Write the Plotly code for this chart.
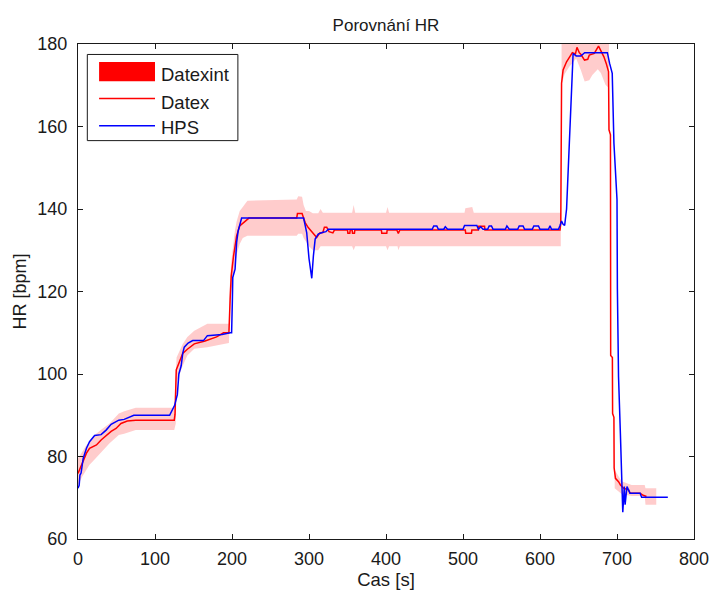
import plotly.graph_objects as go

# ---------------- data ----------------
# Datex HR (red), (time s, bpm)
datex = [(0, 75.9), (2.5, 77.1), (6.8, 78.8), (11, 80.8), (15, 82), (24, 82.8), (30, 84), (36.5, 85.1),
         (43, 86.1), (49.4, 86.8), (55.8, 88), (64, 88.6), (75, 88.8), (125, 88.8), (126, 90.2),
         (127.6, 101), (131, 102.5), (136, 105), (142, 106), (151, 107.3), (165, 108), (180, 109),
         (189, 110), (196, 110), (197.6, 118.2), (199, 123.8), (202, 128.6), (204, 131), (206, 133.5),
         (210, 135.9), (216.7, 137.1), (222, 137.8), (284, 137.8), (285, 138.9), (291, 138.9),
         (295, 136.7), (299, 135.5), (303, 134.7), (308, 133.5), (310, 133.1), (314, 134.2), (318, 134.3),
         (320, 135.6), (323, 135.6), (326, 134.5), (331, 134.2), (333, 134.9), (350, 134.9), (350.5, 134.1),
         (353, 134.1), (353.5, 134.9), (356, 134.9), (356.5, 134.1), (359, 134.1), (359.5, 134.9),
         (394, 134.9), (394.5, 134.1), (401, 134.1), (401.5, 134.9), (414, 134.9), (416, 134.1),
         (418, 134.9), (503, 134.9), (503.5, 134.1), (511, 134.1), (511.5, 134.9), (520, 134.9),
         (520.5, 135.8), (528, 135.8), (528.5, 134.9), (626, 134.9), (627, 136.5), (628, 170.5),
         (630, 173.7), (634.5, 175.7), (638.7, 176.9), (642, 177.9), (646, 177.6), (648, 179.2),
         (651, 177.9), (653, 177.5), (657.8, 176.1), (662, 176.3), (664, 177.3), (670.5, 177.7),
         (676, 179.5), (679, 178.4), (683, 176.9), (686, 175.3), (689, 173.3), (689.6, 159.2),
         (691.5, 158), (691.8, 104.5), (694, 104), (694.3, 90.4), (696, 89.5), (696.3, 77.2),
         (698, 74.7), (702, 73.9), (704.5, 73.1), (708.6, 72.3), (715, 71.9), (717, 71.1),
         (730, 71.1), (734, 70.6), (737, 70.3), (738.3, 70.3)]

# HPS HR (blue), (time s, bpm)
hps = [(0, 72.3), (1.5, 73), (2.5, 75.5), (4, 76), (6.8, 79.6), (11, 82), (15, 83.6), (21.6, 85.1),
       (30, 85.3), (36.5, 86.4), (43, 87.8), (53, 88.8), (60, 89), (72.5, 90), (119, 90), (122, 91),
       (125.5, 92.4), (129, 95), (131, 100), (134, 102), (136, 105), (138, 106.5), (143, 107.5),
       (149, 108.1), (163, 108.1), (168, 109.3), (187, 109.6), (197.6, 110), (199.5, 110),
       (200.5, 118), (201, 123.4), (204, 125.4), (206, 131.9), (208, 134.7), (210.3, 136.7),
       (212.5, 137.8), (293, 137.8), (297, 134.3), (300, 128), (301.5, 126.2), (303.6, 123.2),
       (305.7, 128.6), (308, 132.7), (312, 133.9), (317, 134.3), (322, 134.5), (325, 135.1),
       (460, 135.1), (462, 135.9), (466, 135.9), (468, 135.1), (475, 135.1), (477, 135.7), (480, 135.1),
       (500, 135.1), (502, 136), (518, 136), (520, 135.1), (523, 135.7), (526, 135.1), (532, 135.1),
       (534, 135.9), (537, 135.9), (539, 135.1), (555, 135.1), (557, 135.9), (560, 135.1), (571, 135.1),
       (573, 135.9), (578, 135.9), (580, 135.1), (590, 135.1), (592, 135.9), (598, 135.9), (600, 135.1),
       (611, 135.1), (613, 135.9), (615, 135.1), (624, 135.1), (626, 136), (628, 137.1), (630, 136.3),
       (632, 136), (634.5, 140), (636.6, 149.6), (638.7, 160), (640.8, 170.5), (643, 177.7),
       (647, 177.1), (653, 177.1), (658, 177.9), (687.5, 177.9), (690.4, 175.3), (693.8, 172.9),
       (696, 156), (700, 142.3), (700.5, 120.6), (702, 99.3), (704.4, 85.6), (705.7, 75.5),
       (706.5, 66.7), (707.5, 66.5), (709.5, 72.7), (710.5, 68.3), (713, 72.7), (715, 72),
       (717, 71.1), (730, 71.1), (732, 70.1), (766, 70.1)]

# Datexint band (red, semi-transparent): segments of (time s, lower bpm, upper bpm)
band_seg1 = [(0, 73, 79.5), (5, 75, 81), (10, 76.5, 82.5), (15, 78, 83.6), (20, 79, 85), (30, 81, 86.5),
             (41, 83.2, 88), (53, 85.2, 90.4), (60, 85.5, 91), (75, 86.4, 91.8), (125, 86.4, 91.8),
             (127, 88, 98), (128, 98, 104), (136, 102, 107.3), (142, 104.5, 109), (151, 106.1, 110.5),
             (168, 106.5, 112.2), (196, 107.5, 112.2), (197, 114, 121), (199, 120, 127), (202, 124, 132),
             (204, 127, 135), (206, 129, 137), (210, 131.5, 139.5), (214, 133, 140.5), (220, 133.5, 142),
             (284, 133.5, 142.3), (286, 134, 143.1), (291, 134, 143), (293, 133, 141), (296, 132, 139.5),
             (300, 131, 139.5), (305, 130, 139), (312, 130, 139), (315, 131, 140), (318, 131, 139.1),
             (356, 131, 139.1), (358, 130, 141), (360, 131, 139.1), (400, 131, 139.1), (402, 130, 140.5),
             (404, 131, 139.1), (415, 131, 139.1), (416, 130, 139.1), (418, 131, 139.1), (502, 131, 139.1),
             (503, 131, 140.2), (512, 131, 140.5), (514, 131, 139.1), (627, 131, 139.1)]
band_seg2 = [(628, 170.1, 182), (632, 172.7, 182), (638, 174.5, 182), (647, 176.5, 182), (653, 173.7, 182),
             (658, 170.9, 182), (664, 171.2, 182), (668, 172.5, 182), (675, 173.9, 182), (679, 173, 182),
             (685, 170.1, 182), (689.6, 169.3, 182)]
band_seg3 = [(697, 72.3, 76.7), (706, 70.9, 74), (719, 70.4, 73.1), (736, 70.4, 73.1), (737, 68.3, 72.3),
             (751, 68.3, 72.3)]

series_names = ["Datexint", "Datex", "HPS"]
x_ticks = [0, 100, 200, 300, 400, 500, 600, 700, 800]
y_ticks = [60, 80, 100, 120, 140, 160, 180]

# ---------------- figure ----------------
W, H = 721, 595
ML, MR, MT, MB = 78, 15, 44, 54
PW, PH = W - ML - MR, H - MT - MB
FONT = "Liberation Sans, Arial, sans-serif"
TXT = "#1a1a1a"

bx, by = [], []
for seg in (band_seg1, band_seg2, band_seg3):
    t = [p[0] for p in seg]
    lo = [p[1] for p in seg]
    hi = [p[2] for p in seg]
    bx += t + t[::-1] + [None]
    by += lo + hi[::-1] + [None]

fig = go.Figure()
fig.add_trace(go.Scatter(x=bx, y=by, fill="toself", fillcolor="rgba(255,0,0,0.2)",
                         mode="lines", line=dict(width=0), name=series_names[0],
                         hoverinfo="skip", showlegend=False))
fig.add_trace(go.Scatter(x=[p[0] for p in datex], y=[p[1] for p in datex], mode="lines",
                         line=dict(color="#ff0000", width=1.5), name=series_names[1], showlegend=False))
fig.add_trace(go.Scatter(x=[p[0] for p in hps], y=[p[1] for p in hps], mode="lines",
                         line=dict(color="#0000ff", width=1.5), name=series_names[2], showlegend=False))


def px(xpix):
    return (xpix - ML) / PW


def py(ypix):
    return (H - MB - ypix) / PH


# legend drawn as shapes + text, MATLAB style
shapes = [
    dict(type="rect", xref="paper", yref="paper", x0=px(87.5), x1=px(241), y0=py(141), y1=py(54.5),
         line=dict(color="#1a1a1a", width=1), fillcolor="white", layer="above"),
    dict(type="rect", xref="paper", yref="paper", x0=px(99.5), x1=px(156.5), y0=py(81.5), y1=py(62),
         line=dict(width=0), fillcolor="#ff0000", layer="above"),
    dict(type="line", xref="paper", yref="paper", x0=px(99.5), x1=px(156.5), y0=py(98.7), y1=py(98.7),
         line=dict(color="#ff0000", width=1.5), layer="above"),
    dict(type="line", xref="paper", yref="paper", x0=px(99.5), x1=px(156.5), y0=py(126), y1=py(126),
         line=dict(color="#0000ff", width=1.5), layer="above"),
]
annotations = []
for name, ytext in zip(series_names, [74.5, 102.5, 128]):
    annotations.append(dict(text=name, xref="paper", yref="paper", x=px(161), y=py(ytext),
                            xanchor="left", yanchor="middle", showarrow=False,
                            font=dict(family=FONT, size=18.5, color=TXT)))

axis_common = dict(showline=True, linecolor="#1a1a1a", linewidth=1, mirror="ticks", ticks="inside",
                   ticklen=5, tickcolor="#1a1a1a", showgrid=False, zeroline=False,
                   ticklabeloverflow="allow",
                   tickfont=dict(family=FONT, size=18, color=TXT))

fig.update_layout(
    width=W, height=H, autosize=False,
    margin=dict(l=ML, r=MR, t=MT, b=MB, pad=0),
    paper_bgcolor="white", plot_bgcolor="white",
    title=dict(text="Porovnání HR", x=0.5, xref="paper", y=1 - 25 / H, yref="container",
               xanchor="center", yanchor="middle", font=dict(family=FONT, size=17, color=TXT)),
    xaxis=dict(range=[0, 800], tickvals=x_ticks, ticklabelstandoff=3,
               title=dict(text="Cas [s]", standoff=1, font=dict(family=FONT, size=18.5, color=TXT)),
               **axis_common),
    yaxis=dict(range=[60, 180], tickvals=y_ticks, ticklabelstandoff=6,
               title=dict(text="HR [bpm]", standoff=6, font=dict(family=FONT, size=18, color=TXT)),
               **axis_common),
    shapes=shapes, annotations=annotations, showlegend=False,
)

fig.write_html("out.html")
